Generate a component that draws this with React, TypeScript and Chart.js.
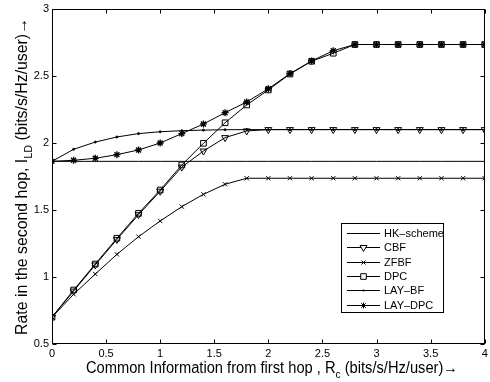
import React, { useEffect, useRef } from 'react';
import { Chart, registerables } from 'chart.js';

Chart.register(...registerables);

const xValues = [0, 0.2, 0.4, 0.6, 0.8, 1.0, 1.2, 1.4, 1.6, 1.8, 2.0, 2.2, 2.4, 2.6, 2.8, 3.0, 3.2, 3.4, 3.6, 3.8, 4.0];
const hkScheme = [1.863, 1.863, 1.863, 1.863, 1.863, 1.863, 1.863, 1.863, 1.863, 1.863, 1.863, 1.863, 1.863, 1.863, 1.863, 1.863, 1.863, 1.863, 1.863, 1.863, 1.863];
const cbf = [0.70, 0.895, 1.09, 1.28, 1.465, 1.64, 1.82, 1.94, 2.04, 2.09, 2.10, 2.10, 2.10, 2.10, 2.10, 2.10, 2.10, 2.10, 2.10, 2.10, 2.10];
const zfbf = [0.70, 0.871, 1.022, 1.169, 1.301, 1.418, 1.525, 1.617, 1.692, 1.737, 1.737, 1.737, 1.737, 1.737, 1.737, 1.737, 1.737, 1.737, 1.737, 1.737, 1.737];
const dpc = [0.70, 0.903, 1.097, 1.289, 1.475, 1.649, 1.836, 1.998, 2.151, 2.284, 2.396, 2.515, 2.61, 2.67, 2.735, 2.735, 2.735, 2.735, 2.735, 2.735, 2.735];
const layBf = [1.863, 1.953, 2.007, 2.045, 2.07, 2.084, 2.092, 2.096, 2.099, 2.10, 2.10, 2.10, 2.10, 2.10, 2.10, 2.10, 2.10, 2.10, 2.10, 2.10, 2.10];
const layDpc = [1.863, 1.871, 1.886, 1.913, 1.948, 2.0, 2.07, 2.142, 2.226, 2.306, 2.405, 2.518, 2.612, 2.689, 2.735, 2.735, 2.735, 2.735, 2.735, 2.735, 2.735];

const xTicks = [0, 0.5, 1, 1.5, 2, 2.5, 3, 3.5, 4];
const xTickLabels = ['0', '0.5', '1', '1.5', '2', '2.5', '3', '3.5', '4'];
const yTicks = [0.5, 1, 1.5, 2, 2.5, 3];
const yTickLabels = ['0.5', '1', '1.5', '2', '2.5', '3'];

const seriesNames = ['HK\u2013scheme', 'CBF', 'ZFBF', 'DPC', 'LAY\u2013BF', 'LAY\u2013DPC'];
const xTitleParts = ['Common Information from first hop , R', 'c', ' (bits/s/Hz/user)\u2192'];
const yTitleParts = ['Rate in the second hop, I', 'LD', ' (bits/s/Hz/user)\u2192'];

const FONT = '"Liberation Sans", Arial, Helvetica, sans-serif';

function drawMarker(ctx: CanvasRenderingContext2D, style: string, x: number, y: number) {
  ctx.beginPath();
  if (style === 'tri') {
    const r = 4;
    ctx.moveTo(x - r * 0.87, y - r * 0.5);
    ctx.lineTo(x + r * 0.87, y - r * 0.5);
    ctx.lineTo(x, y + r);
    ctx.closePath();
    ctx.fillStyle = '#fff';
    ctx.fill();
    ctx.stroke();
  } else if (style === 'x') {
    const r = 2;
    ctx.moveTo(x - r, y - r); ctx.lineTo(x + r, y + r);
    ctx.moveTo(x + r, y - r); ctx.lineTo(x - r, y + r);
    ctx.stroke();
  } else if (style === 'sq') {
    const r = 2.8;
    ctx.rect(x - r, y - r, 2 * r, 2 * r);
    ctx.fillStyle = '#fff';
    ctx.fill();
    ctx.stroke();
  } else if (style === 'dot') {
    ctx.arc(x, y, 1, 0, Math.PI * 2);
    ctx.fillStyle = '#000';
    ctx.fill();
  } else if (style === 'star') {
    const r = 3;
    ctx.moveTo(x - r, y); ctx.lineTo(x + r, y);
    ctx.moveTo(x, y - r); ctx.lineTo(x, y + r);
    const d = r * 0.75;
    ctx.moveTo(x - d, y - d); ctx.lineTo(x + d, y + d);
    ctx.moveTo(x + d, y - d); ctx.lineTo(x - d, y + d);
    ctx.stroke();
  }
}

// Draws text with a subscript, centred on cx, baseline at 0 (in current transform),
// stretched along the text direction to the wanted length.
function drawSubText(ctx: CanvasRenderingContext2D, parts: string[], cx: number, base: number, length: number) {
  const main = `16px ${FONT}`;
  const sub = `11px ${FONT}`;
  ctx.font = main;
  const w0 = ctx.measureText(parts[0]).width;
  const w2 = ctx.measureText(parts[2]).width;
  ctx.font = sub;
  const w1 = ctx.measureText(parts[1]).width;
  const total = w0 + w1 + w2;
  const k = length / total;
  ctx.save();
  ctx.translate(cx - length / 2, base);
  ctx.scale(k, 1);
  ctx.textBaseline = 'alphabetic';
  ctx.textAlign = 'left';
  let x = 0;
  ctx.font = main;
  ctx.fillText(parts[0], x, 0);
  x += w0;
  ctx.font = sub;
  ctx.fillText(parts[1], x, 5.5);
  x += w1;
  ctx.font = main;
  ctx.fillText(parts[2], x, 0);
  ctx.restore();
}

const framePlugin = {
  id: 'frame',
  afterDraw(chart: any) {
    const { ctx, chartArea: a, scales } = chart;
    const xs = scales.x;
    const ys = scales.y;
    ctx.save();
    ctx.strokeStyle = '#000';
    ctx.fillStyle = '#000';
    ctx.lineWidth = 1;
    const L = Math.round(a.left) + 0.5;
    const R = Math.round(a.right) - 0.5;
    const T = Math.round(a.top) + 0.5;
    const B = Math.round(a.bottom) - 0.5;
    ctx.strokeRect(L, T, R - L, B - T);
    ctx.beginPath();
    const tl = 4;
    xTicks.forEach((v) => {
      const px = Math.round(xs.getPixelForValue(v)) + 0.5;
      ctx.moveTo(px, B); ctx.lineTo(px, B - tl);
      ctx.moveTo(px, T); ctx.lineTo(px, T + tl);
    });
    yTicks.forEach((v) => {
      const py = Math.round(ys.getPixelForValue(v)) + 0.5;
      ctx.moveTo(L, py); ctx.lineTo(L + tl, py);
      ctx.moveTo(R, py); ctx.lineTo(R - tl, py);
    });
    ctx.stroke();

    // tick labels
    ctx.fillStyle = '#000';
    ctx.font = `11px ${FONT}`;
    ctx.textAlign = 'center';
    ctx.textBaseline = 'top';
    xTicks.forEach((v, i) => {
      ctx.fillText(xTickLabels[i], xs.getPixelForValue(v), a.bottom + 4);
    });
    ctx.textAlign = 'right';
    ctx.textBaseline = 'middle';
    yTicks.forEach((v, i) => {
      ctx.fillText(yTickLabels[i], a.left - 3, ys.getPixelForValue(v));
    });

    // axis titles
    drawSubText(ctx, xTitleParts, 272, 372.5, 372);
    ctx.save();
    ctx.translate(26.5, 0);
    ctx.rotate(-Math.PI / 2);
    drawSubText(ctx, yTitleParts, -176.5, 0, 317);
    ctx.restore();

    // legend
    const bx = 341, by = 223, bw = 102, bh = 89;
    ctx.fillStyle = '#fff';
    ctx.fillRect(bx, by, bw, bh);
    ctx.strokeStyle = '#000';
    ctx.lineWidth = 1;
    ctx.strokeRect(bx + 0.5, by + 0.5, bw, bh);
    const styles = ['none', 'tri', 'x', 'sq', 'dot', 'star'];
    ctx.font = `11px ${FONT}`;
    ctx.textBaseline = 'middle';
    ctx.textAlign = 'left';
    seriesNames.forEach((name, i) => {
      const yy = Math.round(233 + i * 14.3) + 0.5;
      ctx.beginPath();
      ctx.strokeStyle = '#000';
      ctx.lineWidth = 1;
      ctx.moveTo(347, yy);
      ctx.lineTo(380, yy);
      ctx.stroke();
      drawMarker(ctx, styles[i], 363.5, yy);
      ctx.fillStyle = '#000';
      ctx.fillText(name, 384, yy);
    });
    ctx.restore();
  },
};

function toPoints(ys: number[]) {
  return xValues.map((x, i) => ({ x, y: ys[i] }));
}

export default function App() {
  const ref = useRef<HTMLCanvasElement>(null);
  useEffect(() => {
    document.body.style.margin = '0';
    const canvas = ref.current!;
    const base = {
      borderColor: '#000',
      borderWidth: 1,
      pointBorderColor: '#000',
      pointBorderWidth: 1,
      fill: false,
      tension: 0,
    };
    const chart = new Chart(canvas, {
      type: 'line',
      data: {
        datasets: [
          { ...base, label: seriesNames[0], data: toPoints(hkScheme), pointRadius: 0 },
          { ...base, label: seriesNames[1], data: toPoints(cbf), pointStyle: 'triangle', pointRotation: 180, pointRadius: 4, pointBackgroundColor: 'rgba(255,255,255,0)' },
          { ...base, label: seriesNames[2], data: toPoints(zfbf), pointStyle: 'crossRot', pointRadius: 3 },
          { ...base, label: seriesNames[3], data: toPoints(dpc), pointStyle: 'rect', pointRadius: 4, pointBackgroundColor: 'rgba(255,255,255,0)' },
          { ...base, label: seriesNames[4], data: toPoints(layBf), pointStyle: 'circle', pointRadius: 1, pointBackgroundColor: '#000' },
          { ...base, label: seriesNames[5], data: toPoints(layDpc), pointStyle: 'star', pointRadius: 3.5, pointBorderWidth: 1.3 },
        ],
      } as any,
      options: {
        animation: false,
        responsive: false,
        devicePixelRatio: 1,
        layout: { padding: { top: 9, right: 2, left: 52, bottom: 38 } },
        plugins: { legend: { display: false }, tooltip: { enabled: false } },
        scales: {
          x: { type: 'linear', min: 0, max: 4, display: false },
          y: { type: 'linear', min: 0.5, max: 3, display: false },
        },
      } as any,
      plugins: [framePlugin],
    });
    return () => chart.destroy();
  }, []);
  return <canvas ref={ref} width={490} height={382} style={{ display: 'block', width: 490, height: 382 }} />;
}
